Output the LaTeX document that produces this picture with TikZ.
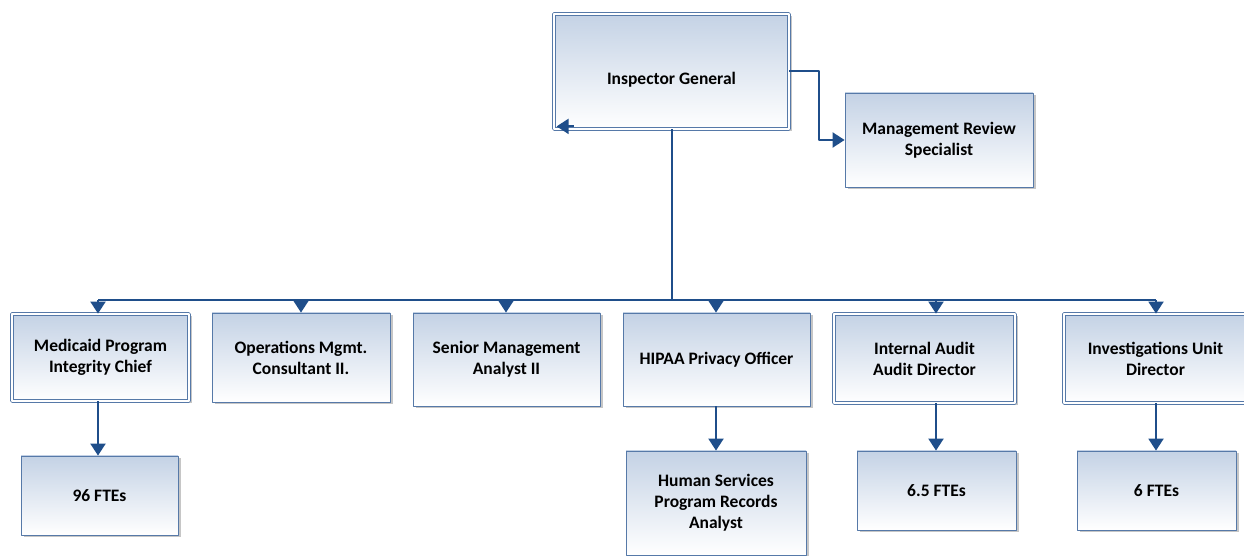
\documentclass[tikz,border=0pt]{standalone}
\usepackage{fontspec}
\setmainfont{Carlito}
\usetikzlibrary{arrows.meta,shadows}
\definecolor{boxtop}{HTML}{C4D2E5}
\definecolor{boxline}{HTML}{5679A8}
\definecolor{connblue}{HTML}{1F4E8A}
\tikzset{
  box/.style={draw=boxline,line width=0.8bp,top color=boxtop,bottom color=white,
    align=center,inner sep=0pt,
    font=\fontsize{17.5bp}{21bp}\selectfont\bfseries,
    drop shadow={shadow xshift=2.5bp,shadow yshift=-2.5bp,opacity=0.45,fill=gray}},
  dbox/.style={box,double=white,double distance=2bp},
  conn/.style={draw=connblue,line width=2bp,-{Triangle[width=15bp,length=12bp]}},
  bus/.style={draw=connblue,line width=2bp},
}
\begin{document}
\begin{tikzpicture}[>=Triangle,line join=bevel,]
\useasboundingbox (0bp,0bp) rectangle (1244bp,556bp);
\clip (0bp,0bp) rectangle (1244bp,556bp);
%%
\node (node_ig) at (671.5bp,484.5bp) [dbox,minimum width=235bp,minimum height=115bp,text height=30bp,text depth=3bp] {Inspector General};
  \node (node_mrs) at (939bp,416bp) [box,minimum width=188bp,minimum height=94bp] {Management Review\\Specialist};
  \node (node_med) at (100.5bp,198.5bp) [dbox,minimum width=177bp,minimum height=87bp] {Medicaid Program\\Integrity Chief};
  \node (node_ops) at (301bp,198.5bp) [box,minimum width=178bp,minimum height=89bp] {Operations Mgmt.\\Consultant II.};
  \node (node_sma) at (506.5bp,196.5bp) [box,minimum width=187bp,minimum height=93bp] {Senior Management\\Analyst II};
  \node (node_hip) at (716.5bp,196.5bp) [box,minimum width=187bp,minimum height=93bp] {HIPAA Privacy Officer};
  \node (node_iad) at (924.5bp,197.5bp) [dbox,minimum width=181bp,minimum height=89bp] {Internal Audit\\Audit Director};
  \node (node_inv) at (1155.5bp,197.5bp) [dbox,minimum width=183bp,minimum height=89bp] {Investigations Unit\\Director};
  \node (node_fte96) at (99.5bp,60.5bp) [box,minimum width=157bp,minimum height=79bp] {96 FTEs};
  \node (node_hsa) at (716bp,53bp) [box,minimum width=180bp,minimum height=104bp] {Human Services\\Program Records\\Analyst};
  \node (node_fte65) at (936.5bp,65.5bp) [box,minimum width=159bp,minimum height=79bp] {6.5 FTEs};
  \node (node_fte6) at (1156.5bp,65.5bp) [box,minimum width=159bp,minimum height=79bp] {6 FTEs};
%
  \coordinate (bus_0) at (672bp,256bp);
  \coordinate (bus_1) at (98bp,256bp);
  \coordinate (bus_2) at (301bp,256bp);
  \coordinate (bus_3) at (506bp,256bp);
  \coordinate (bus_4) at (716bp,256bp);
  \coordinate (bus_5) at (936bp,256bp);
  \coordinate (bus_6) at (1156bp,256bp);
  \draw [bus] (node_ig.south -| bus_0) -- (bus_0);
  \draw [bus] (bus_1) -- (bus_6);
  \draw [conn] (bus_1) -- (bus_1 |- node_med.north);
  \draw [conn] (bus_2) -- (bus_2 |- node_ops.north);
  \draw [conn] (bus_3) -- (bus_3 |- node_sma.north);
  \draw [conn] (bus_4) -- (bus_4 |- node_hip.north);
  \draw [conn] (bus_5) -- (bus_5 |- node_iad.north);
  \draw [conn] (bus_6) -- (bus_6 |- node_inv.north);
  \draw [conn] (node_ig.east) -- ++(30bp,0bp) |- (node_mrs.west);
  \draw [conn] ([xshift=20bp,yshift=3bp]node_ig.south west) -- ([xshift=3bp,yshift=3bp]node_ig.south west);
  \draw [conn] (node_med.south -| bus_1) -- (bus_1 |- node_fte96.north);
  \draw [conn] (node_hip.south -| bus_4) -- (bus_4 |- node_hsa.north);
  \draw [conn] (node_iad.south -| bus_5) -- (bus_5 |- node_fte65.north);
  \draw [conn] (node_inv.south -| bus_6) -- (bus_6 |- node_fte6.north);
%
\end{tikzpicture}
\end{document}
